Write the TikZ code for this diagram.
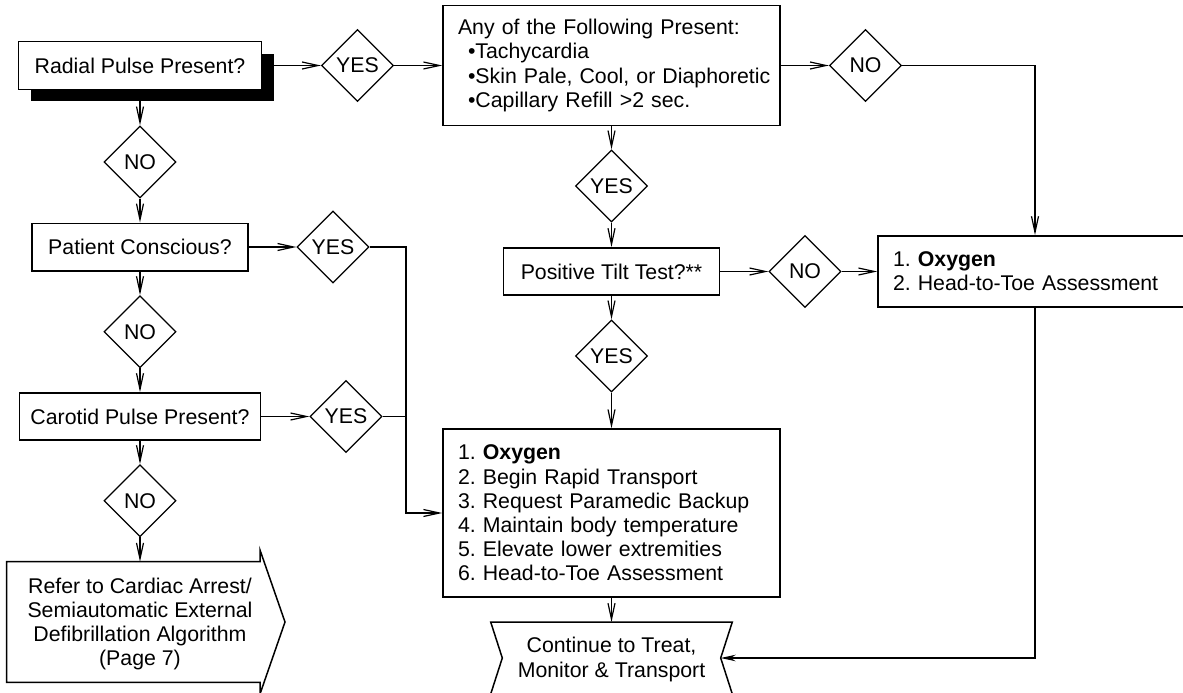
\documentclass[tikz,border=0pt]{standalone}
\usepackage{fontspec}
\setmainfont{Liberation Sans}
\usetikzlibrary{shapes.geometric,arrows.meta,shadows}
\begin{document}
\frenchspacing
\begin{tikzpicture}[x=1pt,y=-1pt,
  every node/.style={font=\fontsize{21.3}{24.2}\selectfont\frenchspacing, text=black},
  box/.style={draw=black, line width=1.5pt, fill=white, rectangle, inner sep=0pt},
  lbox/.style={box, align=left, inner xsep=15pt, inner ysep=0pt},
  dec/.style={draw=black, line width=1.2pt, fill=white, diamond, aspect=1,
              minimum width=72pt, minimum height=72pt, inner sep=0pt},
  txt/.style={inner sep=0pt, align=center},
  outl/.style={draw=black, line width=1.5pt},
  con/.style={draw=black, line width=1.2pt},
  arr/.style={con, -{Straight Barb[length=16pt,width=7pt]}},
  sarr/.style={con, -{Stealth[length=15pt,width=6.5pt]}}
]
\useasboundingbox (0,0) rectangle (1183,693);

% left column
\node[box, minimum width=243pt, minimum height=47.5pt,
      drop shadow={shadow xshift=12pt, shadow yshift=-12pt, fill=black, opacity=1}]
      (start) at (140,65.5) {Radial Pulse Present?};
\node[dec] (noA) at (140,162) {NO};
\node[box, minimum width=216pt, minimum height=47.5pt] (consc) at (140,247) {Patient Conscious?};
\node[dec] (yesC) at (333,247) {YES};
\node[dec] (noB) at (140,331.7) {NO};
\node[box, minimum width=241.4pt, minimum height=47.3pt] (carot) at (140,416.5) {Carotid Pulse Present?};
\node[dec] (yesP) at (346,416.5) {YES};
\node[dec] (noC) at (140,500.7) {NO};

% refer arrow shape
\draw[outl] (6.7,561.7) -- (260,561.7) -- (260,550) -- (285,622) -- (260,694)
  -- (260,682.3) -- (6.7,682.3) -- cycle;
\node[txt] (refer) at (140,624) {Refer to Cardiac Arrest/\\Semiautomatic External\\Defibrillation Algorithm\\(Page 7)};
\coordinate (referN) at (140,561.7);

% centre column
\node[dec] (yes1) at (357.5,65.5) {YES};
\node[lbox, text width=307pt, minimum height=120pt] (any) at (611.5,65.5)
  {\mbox{Any of the Following Present:}\\
   \mbox{\hspace*{10pt}•Tachycardia}\\
   \mbox{\hspace*{10pt}•Skin Pale, Cool, or Diaphoretic}\\
   \mbox{\hspace*{10pt}•Capillary Refill >2 sec.}};
\node[dec] (no1) at (865.5,65.5) {NO};
\node[dec] (yes2) at (611.5,186) {YES};
\node[box, minimum width=216pt, minimum height=47.3pt] (tilt) at (611.5,271.5) {Positive Tilt Test?**};
\node[dec] (no2) at (805,271.5) {NO};
\node[lbox, text width=284pt, minimum height=71.3pt] (oxy) at (1035,271.5)
  {1. \textbf{Oxygen}\\2. Head-to-Toe Assessment};
\node[dec] (yes3) at (611.5,356) {YES};
\node[lbox, text width=307pt, minimum height=168pt] (list) at (611.5,513)
  {1. \textbf{Oxygen}\\
   2. Begin Rapid Transport\\
   3. Request Paramedic Backup\\
   4. Maintain body temperature\\
   5. Elevate lower extremities\\
   6. Head-to-Toe Assessment};

% continue shape
\draw[outl] (490.7,622) -- (732.3,622) -- (720.7,658) -- (732.3,694)
  -- (490.7,694) -- (502.3,658) -- cycle;
\node[txt] (cont) at (611.5,659.5) {Continue to Treat,\\Monitor \& Transport};
\coordinate (contN) at (611.5,622);
\coordinate (contE) at (720.7,658);

\coordinate (jtop) at (406,247);

% connectors
\draw[arr] (start.east) -- (yes1.west);
\draw[arr] (yes1.east) -- (any.west);
\draw[arr] (any.east) -- (no1.west);
\draw[arr] (no1.east) -| (oxy.north);
\draw[arr] (any.south) -- (yes2.north);
\draw[arr] (yes2.south) -- (tilt.north);
\draw[arr] (tilt.east) -- (no2.west);
\draw[arr] (no2.east) -- (oxy.west);
\draw[arr] (tilt.south) -- (yes3.north);
\draw[arr] (yes3.south) -- (list.north);
\draw[arr] (list.south) -- (contN);
\draw[sarr] (oxy.south) |- (contE);

\draw[arr] (start.south) -- (noA.north);
\draw[arr] (noA.south) -- (consc.north);
\draw[arr] (consc.east) -- (yesC.west);
\draw[arr] (yesC.east) -- (jtop) |- (list.west);
\draw[arr] (consc.south) -- (noB.north);
\draw[arr] (noB.south) -- (carot.north);
\draw[arr] (carot.east) -- (yesP.west);
\draw[con] (yesP.east) -- (yesP.east -| jtop);
\draw[arr] (carot.south) -- (noC.north);
\draw[arr] (noC.south) -- (referN);
\end{tikzpicture}
\end{document}
